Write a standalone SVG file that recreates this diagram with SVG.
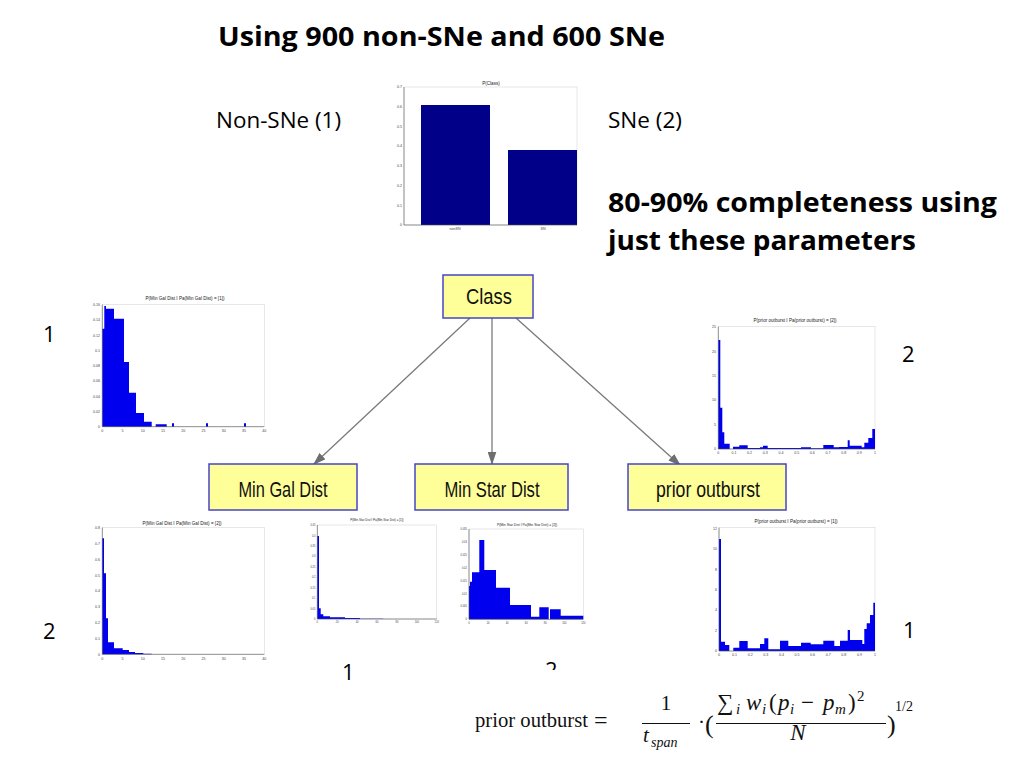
<svg xmlns="http://www.w3.org/2000/svg" width="1024" height="768" viewBox="0 0 1024 768">
<defs>
<marker id="arr" viewBox="0 0 12 8" refX="12" refY="4" markerWidth="13" markerHeight="9" markerUnits="userSpaceOnUse" orient="auto">
<path d="M0 0L12 4L0 8Z" fill="#6e6e6e"/>
</marker>
<clipPath id="cut"><rect x="530" y="655" width="40" height="15"/></clipPath>
</defs>
<style>
.big{font-family:"Open Sans","Liberation Sans",sans-serif;font-weight:bold;font-size:26px;fill:#000}
.lbl{font-family:"Open Sans","Liberation Sans",sans-serif;font-size:22px;fill:#000}
.node rect{fill:#ffff99;stroke:#4646c8;stroke-width:1.5}
.node text{font-family:"Liberation Sans",sans-serif;font-size:22px;fill:#111;text-anchor:middle}
.conn line{stroke:#7a7a7a;stroke-width:1.3;marker-end:url(#arr)}
.ax{fill:none;stroke:#555;stroke-width:0.6}
.box{fill:none;stroke:#cfcfcf;stroke-width:0.5}
.bars{fill:#0000ee}
.tk{font-family:"Liberation Sans",sans-serif;font-size:3.6px;fill:#444}
.ty{text-anchor:end}
.tx{text-anchor:middle}
.ht{font-family:"Liberation Sans",sans-serif;font-size:4.6px;fill:#222;text-anchor:middle}
.m{font-family:"Liberation Serif","DejaVu Serif",serif;font-size:21px;fill:#111}
.mi{font-style:italic}
.sub{font-size:14px}
.num{font-size:23px}
.num .sub{font-size:15px}
</style>
<rect width="1024" height="768" fill="#fff"/>

<text class="big" x="218" y="46" textLength="447" lengthAdjust="spacingAndGlyphs">Using 900 non-SNe and 600 SNe</text>
<text class="lbl" x="216" y="128" textLength="125" lengthAdjust="spacingAndGlyphs">Non-SNe (1)</text>
<text class="lbl" x="608" y="128" textLength="74" lengthAdjust="spacingAndGlyphs">SNe (2)</text>
<text class="big" x="608" y="212" textLength="389" lengthAdjust="spacingAndGlyphs">80-90% completeness using</text>
<text class="big" x="608" y="250" textLength="308" lengthAdjust="spacingAndGlyphs">just these parameters</text>

<!-- P(Class) bar chart -->
<g id="pclass">
<text class="ht" x="491" y="85">P(Class)</text>
<rect class="box" x="404" y="87" width="173" height="138"/>
<rect x="421" y="105" width="69" height="120" fill="#000088"/>
<rect x="508" y="150" width="69" height="75" fill="#000088"/>
<path class="ax" d="M404 87V225H577"/>
<g class="tk ty">
<text x="402" y="226">0</text><text x="402" y="206.5">0.1</text><text x="402" y="186.8">0.2</text><text x="402" y="167.1">0.3</text><text x="402" y="147.4">0.4</text><text x="402" y="127.7">0.5</text><text x="402" y="108">0.6</text><text x="402" y="88.2">0.7</text>
</g>
<g class="tk tx"><text x="455" y="230">nonSN</text><text x="543" y="230">SN</text></g>
</g>

<!-- Hist: Min Gal Dist [1] -->
<g id="h-gal1">
<text class="ht" x="185" y="300">P(Min Gal Dist I Pa(Min Gal Dist) = [1])</text>
<rect class="box" x="102.3" y="304.7" width="162" height="122"/>
<path class="bars" d="M102.3 426.7V328.7H104.3V306H106V308.7H114V318.7H124V362H129V392.7H136V413H144V421.7H151.7V426.7Z M155.7 426.7V424.3H166.7V426.7Z M172 426.7V423.3H174V426.7Z M206 426.7V423.3H208V426.7Z M244 426.7V423.3H246V426.7Z"/>
<path class="ax" d="M102.3 304.7V426.7H264.3"/>
<g class="tk ty">
<text x="100" y="428">0</text><text x="100" y="412.8">0.02</text><text x="100" y="397.5">0.04</text><text x="100" y="382.3">0.06</text><text x="100" y="367">0.08</text><text x="100" y="351.8">0.1</text><text x="100" y="336.5">0.12</text><text x="100" y="321.3">0.14</text><text x="100" y="306">0.16</text>
</g>
<g class="tk tx">
<text x="102.3" y="432">0</text><text x="122.6" y="432">5</text><text x="142.8" y="432">10</text><text x="163.1" y="432">15</text><text x="183.3" y="432">20</text><text x="203.6" y="432">25</text><text x="223.8" y="432">30</text><text x="244.1" y="432">35</text><text x="264.3" y="432">40</text>
</g>
</g>

<!-- Hist: prior outburst [2] -->
<g id="h-prior2">
<text class="ht" x="795" y="322">P(prior outburst I Pa(prior outburst) = [2])</text>
<rect class="box" x="718.3" y="326.7" width="156.7" height="122.3"/>
<path class="bars" d="M718.3 449V340H720.3V407.7H722.3V432.3H724.3V443.7H729.7V449Z M733 449V446.7H739.3V445.3H747.7V448H760V447.3H763V445.7H767.7V448H801V447.3H811V448.3H823.3V445H833.7V447.3H839V447H847.7V440.3H849.7V445.7H861.7V447.3H864.3V442.7H868.3V438H872.3V429H875V449Z"/>
<path class="ax" d="M718.3 326.7V449H875"/>
<g class="tk ty">
<text x="716" y="450.3">0</text><text x="716" y="425.8">5</text><text x="716" y="401.4">10</text><text x="716" y="376.9">15</text><text x="716" y="352.5">20</text><text x="716" y="328">25</text>
</g>
<g class="tk tx">
<text x="718.3" y="454.3">0</text><text x="734" y="454.3">0.1</text><text x="749.6" y="454.3">0.2</text><text x="765.3" y="454.3">0.3</text><text x="781" y="454.3">0.4</text><text x="796.7" y="454.3">0.5</text><text x="812.3" y="454.3">0.6</text><text x="828" y="454.3">0.7</text><text x="843.7" y="454.3">0.8</text><text x="859.3" y="454.3">0.9</text><text x="875" y="454.3">1</text>
</g>
</g>

<!-- Hist: Min Gal Dist [2] -->
<g id="h-gal2">
<text class="ht" x="182" y="525">P(Min Gal Dist I Pa(Min Gal Dist) = [2])</text>
<rect class="box" x="102.3" y="527.7" width="162" height="126.6"/>
<path class="bars" d="M102.3 654.3V538.3H104V573.3H106V618.3H108V642.3H114V648.3H122.7V650H129V652H135V653H143.3V653.7H151.7V654.3Z"/>
<path class="ax" d="M102.3 527.7V654.3H264.3"/>
<g class="tk ty">
<text x="100" y="655.6">0</text><text x="100" y="639.8">0.1</text><text x="100" y="623.9">0.2</text><text x="100" y="608.1">0.3</text><text x="100" y="592.3">0.4</text><text x="100" y="576.5">0.5</text><text x="100" y="560.6">0.6</text><text x="100" y="544.8">0.7</text><text x="100" y="529">0.8</text>
</g>
<g class="tk tx">
<text x="102.3" y="659.6">0</text><text x="122.6" y="659.6">5</text><text x="142.8" y="659.6">10</text><text x="163.1" y="659.6">15</text><text x="183.3" y="659.6">20</text><text x="203.6" y="659.6">25</text><text x="223.8" y="659.6">30</text><text x="244.1" y="659.6">35</text><text x="264.3" y="659.6">40</text>
</g>
</g>

<!-- Hist: Min Star Dist [1] -->
<g id="h-star1">
<text class="ht" x="377" y="521" style="font-size:3px">P(Min Star Dist I Pa(Min Star Dist) = [1])</text>
<rect class="box" x="317.3" y="525" width="119.4" height="94"/>
<path class="bars" d="M317.3 619V536H319V608.3H320.7V614.3H323.3V616.3H330V617.3H345V618H360V618.7H383.3V619Z"/>
<path class="ax" d="M317.3 525V619H436.7"/>
<g class="tk ty" style="font-size:2.6px">
<text x="315.5" y="620">0</text><text x="315.5" y="609.6">0.05</text><text x="315.5" y="599.1">0.1</text><text x="315.5" y="588.7">0.15</text><text x="315.5" y="578.2">0.2</text><text x="315.5" y="567.8">0.25</text><text x="315.5" y="557.4">0.3</text><text x="315.5" y="546.9">0.35</text><text x="315.5" y="536.5">0.4</text><text x="315.5" y="526">0.45</text>
</g>
<g class="tk tx" style="font-size:2.6px">
<text x="317.3" y="623">0</text><text x="337.2" y="623">20</text><text x="357.1" y="623">40</text><text x="377" y="623">60</text><text x="396.9" y="623">80</text><text x="416.8" y="623">100</text><text x="436.7" y="623">120</text>
</g>
</g>

<!-- Hist: Min Star Dist [2] -->
<g id="h-star2">
<text class="ht" x="527" y="525.5" style="font-size:3.4px">P(Min Star Dist I Pa(Min Star Dist) = [2])</text>
<rect class="box" x="469" y="529" width="114.3" height="90.3"/>
<path class="bars" d="M469 619.3V586H470V581.7H472V572.3H479.3V540H484.3V570H496V587.7H510V605H531V616.7H539.3V607.3H548.7V619.3Z M550 619.3V609.3H560.7V615.7H583.3V619.3Z"/>
<path class="ax" d="M469 529V619.3H583.3"/>
<g class="tk ty" style="font-size:2.6px">
<text x="467" y="620.3">0</text><text x="467" y="607.4">0.005</text><text x="467" y="594.5">0.01</text><text x="467" y="581.6">0.015</text><text x="467" y="568.7">0.02</text><text x="467" y="555.8">0.025</text><text x="467" y="542.9">0.03</text><text x="467" y="530">0.035</text>
</g>
<g class="tk tx" style="font-size:2.6px">
<text x="469" y="623.5">0</text><text x="488.1" y="623.5">20</text><text x="507.1" y="623.5">40</text><text x="526.2" y="623.5">60</text><text x="545.2" y="623.5">80</text><text x="564.3" y="623.5">100</text><text x="583.3" y="623.5">120</text>
</g>
</g>

<!-- Hist: prior outburst [1] -->
<g id="h-prior1">
<text class="ht" x="796" y="523">P(prior outburst I Pa(prior outburst) = [1])</text>
<rect class="box" x="719" y="527.7" width="156" height="123.3"/>
<path class="bars" d="M719 651V539H721V641.7H725V645H729.3V651Z M733.3 651V647.7H739.3V641H747.7V648.3H760V644H764.3V638.3H768.3V649.3H780V640.7H788.3V646H801V642.7H810.7V644.3H823.3V640.7H834.3V646H840V640.7H847.7V630H850V640H862.3V644H864.3V629H866.7V623.3H870V615H873.3V602.7H875V651Z"/>
<path class="ax" d="M719 527.7V651H875"/>
<g class="tk ty">
<text x="717" y="652.3">0</text><text x="717" y="631.9">2</text><text x="717" y="611.4">4</text><text x="717" y="591">6</text><text x="717" y="570.5">8</text><text x="717" y="550.1">10</text><text x="717" y="529.6">12</text>
</g>
<g class="tk tx">
<text x="719" y="656.3">0</text><text x="734.6" y="656.3">0.1</text><text x="750.2" y="656.3">0.2</text><text x="765.8" y="656.3">0.3</text><text x="781.4" y="656.3">0.4</text><text x="797" y="656.3">0.5</text><text x="812.6" y="656.3">0.6</text><text x="828.2" y="656.3">0.7</text><text x="843.8" y="656.3">0.8</text><text x="859.4" y="656.3">0.9</text><text x="875" y="656.3">1</text>
</g>
</g>

<!-- connectors -->
<g id="connectors" class="conn">
<line x1="470" y1="318" x2="313" y2="465"/>
<line x1="492" y1="318" x2="492" y2="465"/>
<line x1="516" y1="318" x2="681" y2="466"/>
</g>

<!-- nodes -->
<g id="node-class" class="node">
<rect x="443" y="275" width="90" height="43"/>
<text x="489" y="304" textLength="46" lengthAdjust="spacingAndGlyphs">Class</text>
</g>
<g id="node-mingal" class="node">
<rect x="209" y="464" width="148" height="46"/>
<text x="283" y="497" textLength="89" lengthAdjust="spacingAndGlyphs">Min Gal Dist</text>
</g>
<g id="node-minstar" class="node">
<rect x="415" y="464" width="153" height="46"/>
<text x="492" y="497" textLength="95" lengthAdjust="spacingAndGlyphs">Min Star Dist</text>
</g>
<g id="node-prior" class="node">
<rect x="628" y="464" width="158" height="46"/>
<text x="708" y="497" textLength="104" lengthAdjust="spacingAndGlyphs">prior outburst</text>
</g>

<!-- class labels -->
<text class="lbl" x="43" y="342">1</text>
<text class="lbl" x="902" y="362">2</text>
<text class="lbl" x="43" y="639">2</text>
<text class="lbl" x="903" y="638">1</text>
<text class="lbl" x="342" y="680">1</text>
<text class="lbl" x="545" y="678" clip-path="url(#cut)">2</text>

<!-- formula -->
<g id="formula">
<text class="m" x="475" y="727" textLength="113" lengthAdjust="spacingAndGlyphs">prior outburst</text>
<text class="m" x="594" y="728" style="font-size:24px">=</text>
<text class="m" x="666" y="710" text-anchor="middle">1</text>
<line x1="642" y1="723.5" x2="690" y2="723.5" stroke="#111" stroke-width="1.2"/>
<text class="m mi" x="643" y="742">t</text>
<text class="m mi sub" x="651" y="747">span</text>
<text class="m" x="698" y="729">·</text>
<text class="m" x="705" y="733" style="font-size:26px">(</text>
<text class="m num" y="710"><tspan x="717">∑</tspan><tspan class="mi sub" x="736" y="714">i</tspan><tspan class="mi" x="746" y="710">w</tspan><tspan class="mi sub" x="762" y="714">i</tspan><tspan x="769" y="710">(</tspan><tspan class="mi" x="778">p</tspan><tspan class="mi sub" x="790" y="714">i</tspan><tspan x="801" y="710">−</tspan><tspan class="mi" x="823">p</tspan><tspan class="mi sub" x="835" y="714">m</tspan><tspan x="848" y="710">)</tspan><tspan class="sub" x="857" y="701">2</tspan></text>
<line x1="716" y1="723.5" x2="886" y2="723.5" stroke="#111" stroke-width="1.2"/>
<text class="m mi" x="798" y="740" text-anchor="middle" style="font-size:23px">N</text>
<text class="m" x="887" y="733" style="font-size:26px">)</text>
<text class="m" x="895" y="711" style="font-size:14px">1/2</text>
</g>
</svg>
